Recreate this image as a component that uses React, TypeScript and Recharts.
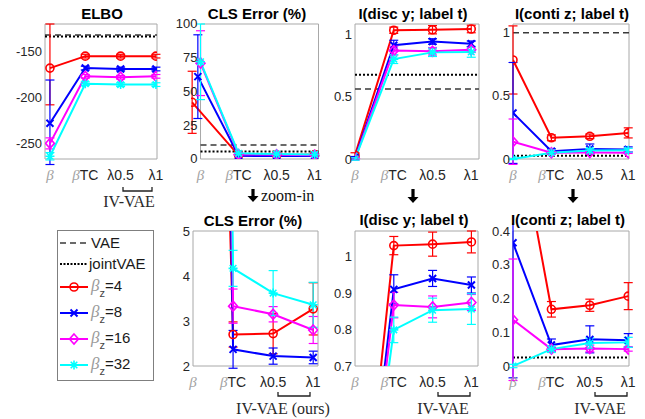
import React from 'react';
import { LineChart, Line, XAxis, YAxis, ErrorBar, ReferenceLine, ReferenceArea } from 'recharts';

const SANS = '"Liberation Sans", Arial, sans-serif';
const SERIF = '"Liberation Serif", "Times New Roman", serif';

// ---------------- data ----------------
const xPositions = [1, 2, 3, 4];
const xLabels = ['β', 'βTC', 'λ0.5', 'λ1'];
const clsRedX = [0.78, 2, 3, 4];
const clsBlueX = [0.93, 2, 3, 4];

// reference lines: [ELBO, CLS, I(disc), I(conti)]
const vaeValues = [-132, 10.3, 0.56, 1.0];
const jointVaeValues = [-133.5, 5.5, 0.675, 0.025];

const elboRed = [-168, -155, -155, -155];
const elboRedErr: any[] = [[40, 48], 2, 2, 2];
const elboBlue = [-228, -168, -169, -169];
const elboBlueErr: any[] = [[45, 47], 2, 2, 2];
const elboMagenta = [-250, -177, -178, -177];
const elboMagentaErr = [6, 2, 2, 2];
const elboCyan = [-264, -185, -186, -186];
const elboCyanErr = [4, 2, 2, 2];

const clsRed = [42, 2.7, 2.72, 3.27];
const clsRedErr = [23, 0.28, 0.45, 0.58];
const clsBlue = [61, 2.37, 2.22, 2.19];
const clsBlueErr = [31, 0.42, 0.18, 0.14];
const clsMagenta = [71, 3.33, 3.15, 2.8];
const clsMagentaErr = [24, 0.38, 0.17, 0.3];
const clsCyan = [72, 4.17, 3.62, 3.36];
const clsCyanErr = [28, 0.4, 0.5, 0.5];

const discRed = [0.03, 1.03, 1.034, 1.04];
const discRedErr = [0.02, 0.025, 0.033, 0.03];
const discBlue = [0.01, 0.91, 0.94, 0.922];
const discBlueErr = [0.01, 0.04, 0.022, 0.022];
const discMagenta = [0, 0.867, 0.862, 0.874];
const discMagentaErr = [0.01, 0.035, 0.03, 0.022];
const discCyan = [0, 0.799, 0.853, 0.856];
const discCyanErr = [0.01, 0.035, 0.033, 0.042];

const contiRed = [0.785, 0.168, 0.18, 0.207];
const contiRedErr = [0.27, 0.023, 0.018, 0.04];
const contiBlue = [0.365, 0.062, 0.079, 0.076];
const contiBlueErr = [0.4, 0.018, 0.04, 0.02];
const contiMagenta = [0.137, 0.05, 0.052, 0.05];
const contiMagentaErr = [0.18, 0.006, 0.01, 0.006];
const contiCyan = [0, 0.05, 0.068, 0.07];
const contiCyanErr = [0.005, 0.01, 0.015, 0.015];

const legendLabels = ['4', '8', '16', '32'];
const seriesStyles = [
  { color: '#ff0000', marker: 'circle' },
  { color: '#0000ff', marker: 'x' },
  { color: '#ff00ff', marker: 'diamond' },
  { color: '#00ffff', marker: 'star' },
];

const mk = (xs: number[], vals: number[], errs: any[]) =>
  vals.map((v, i) => ({ x: xs[i], y: v, err: errs[i] }));

const makeSeries = (rows: any[][]) =>
  rows.map((r, i) => ({ ...seriesStyles[i], name: `s${i}`, data: mk(r[0], r[1], r[2]) }));

const panels = [
  {
    key: 'elbo', box: [45, 157, 24, 159], xDom: [0.86, 4.03], boxX: [0.86, 4.03],
    yDom: [-267, -120], yTicks: [-250, -200, -150], refIdx: 0,
    series: makeSeries([
      [xPositions, elboRed, elboRedErr], [xPositions, elboBlue, elboBlueErr],
      [xPositions, elboMagenta, elboMagentaErr], [xPositions, elboCyan, elboCyanErr],
    ]),
  },
  {
    key: 'clsTop', box: [201, 319, 24, 159], xDom: [0.75, 4.1], boxX: [1, 4.1],
    yDom: [0, 100], yTicks: [0, 25, 50, 75, 100], refIdx: 1,
    series: makeSeries([
      [clsRedX, clsRed, clsRedErr], [clsBlueX, clsBlue, clsBlueErr],
      [xPositions, clsMagenta, clsMagentaErr], [xPositions, clsCyan, clsCyanErr],
    ]),
  },
  {
    key: 'discTop', box: [355, 479, 24, 159], xDom: [1, 4.2], boxX: [1, 4.2],
    yDom: [0, 1.08], yTicks: [0, 0.5, 1], refIdx: 2,
    series: makeSeries([
      [xPositions, discRed, discRedErr], [xPositions, discBlue, discBlueErr],
      [xPositions, discMagenta, discMagentaErr], [xPositions, discCyan, discCyanErr],
    ]),
  },
  {
    key: 'contiTop', box: [513, 629, 24, 159], xDom: [1, 4.02], boxX: [1, 4.02],
    yDom: [0, 1.07], yTicks: [0, 0.5, 1], refIdx: 3,
    series: makeSeries([
      [xPositions, contiRed, contiRedErr], [xPositions, contiBlue, contiBlueErr],
      [xPositions, contiMagenta, contiMagentaErr], [xPositions, contiCyan, contiCyanErr],
    ]),
  },
  {
    key: 'clsBot', box: [193, 318, 231, 366], xDom: [1, 4.12], boxX: [1, 4.12],
    yDom: [2, 5], yTicks: [2, 3, 4, 5], refIdx: 1,
    series: makeSeries([
      [clsRedX, clsRed, clsRedErr], [clsBlueX, clsBlue, clsBlueErr],
      [xPositions, clsMagenta, clsMagentaErr], [xPositions, clsCyan, clsCyanErr],
    ]),
  },
  {
    key: 'discBot', box: [355, 478, 231, 366], xDom: [1, 4.17], boxX: [1, 4.17],
    yDom: [0.7, 1.07], yTicks: [0.7, 0.8, 0.9, 1], refIdx: 2,
    series: makeSeries([
      [xPositions, discRed, discRedErr], [xPositions, discBlue, discBlueErr],
      [xPositions, discMagenta, discMagentaErr], [xPositions, discCyan, discCyanErr],
    ]),
  },
  {
    key: 'contiBot', box: [513, 629, 231, 366], xDom: [1, 4.02], boxX: [1, 4.02],
    yDom: [0, 0.4], yTicks: [0, 0.1, 0.2, 0.3, 0.4], refIdx: 3,
    series: makeSeries([
      [xPositions, contiRed, contiRedErr], [xPositions, contiBlue, contiBlueErr],
      [xPositions, contiMagenta, contiMagentaErr], [xPositions, contiCyan, contiCyanErr],
    ]),
  },
];

// ---------------- marks ----------------
function Marker({ cx, cy, kind, color }: any) {
  if (cx == null || cy == null || isNaN(cx) || isNaN(cy)) return null;
  if (kind === 'circle')
    return <circle cx={cx} cy={cy} r={4} fill="none" stroke={color} strokeWidth={1.6} />;
  if (kind === 'x')
    return (
      <path
        d={`M${cx - 3.5},${cy - 3.5}L${cx + 3.5},${cy + 3.5}M${cx - 3.5},${cy + 3.5}L${cx + 3.5},${cy - 3.5}`}
        stroke={color} strokeWidth={2} fill="none"
      />
    );
  if (kind === 'diamond')
    return (
      <path
        d={`M${cx},${cy - 5}L${cx + 4.5},${cy}L${cx},${cy + 5}L${cx - 4.5},${cy}Z`}
        stroke={color} strokeWidth={1.6} fill="none"
      />
    );
  return (
    <path
      d={`M${cx},${cy - 4.5}L${cx},${cy + 4.5}M${cx - 4.5},${cy}L${cx + 4.5},${cy}M${cx - 3.3},${cy - 3.3}L${cx + 3.3},${cy + 3.3}M${cx - 3.3},${cy + 3.3}L${cx + 3.3},${cy - 3.3}`}
      stroke={color} strokeWidth={1.6} fill="none"
    />
  );
}

const XTick = (props: any) => {
  const { x, y, payload } = props;
  const label = xLabels[xPositions.indexOf(payload.value)] ?? '';
  const hasBeta = label.startsWith('β');
  const rest = hasBeta ? label.slice(1) : label;
  return (
    <text x={x} y={y + 21} textAnchor="middle" fontSize={14} fontFamily={SANS} fill="#262626">
      {hasBeta && (
        <tspan fontFamily={SERIF} fontStyle="italic" fill="#a3a3a3" fontSize={15}>β</tspan>
      )}
      {rest && <tspan>{rest}</tspan>}
    </text>
  );
};

const YTick = (props: any) => {
  const { x, y, payload, shift } = props;
  return (
    <text x={x + shift} y={y} dy={4.5} textAnchor="end" fontSize={13} fontFamily={SANS} fill="#262626">
      {String(payload.value)}
    </text>
  );
};

function Panel({ spec }: any) {
  const [bx1, bx2, by1, by2] = spec.box;
  const unit = (bx2 - bx1) / (spec.boxX[1] - spec.boxX[0]);
  const plotLeft = bx1 - (spec.boxX[0] - spec.xDom[0]) * unit;
  const plotRight = bx2 + (spec.xDom[1] - spec.boxX[1]) * unit;
  const YW = 45, MT = 8, MR = 8, XH = 32;
  const width = YW + (plotRight - plotLeft) + MR;
  const height = MT + (by2 - by1) + XH;
  const shift = bx1 - plotLeft;
  const [ymin, ymax] = spec.yDom;
  const refs = [
    { v: vaeValues[spec.refIdx], dash: '6 4', color: '#3a3a3a', w: 1.5 },
    { v: jointVaeValues[spec.refIdx], dash: '2 2', color: '#000000', w: 2 },
  ].filter((r) => r.v >= ymin && r.v <= ymax);
  return (
    <div style={{ position: 'absolute', left: plotLeft - YW, top: by1 - MT }}>
      <LineChart width={width} height={height} margin={{ top: MT, right: MR, left: 0, bottom: 0 }}>
        <XAxis
          type="number" dataKey="x" domain={spec.xDom} allowDataOverflow ticks={xPositions}
          interval={0} height={XH} axisLine={false} tickLine={false} tickSize={0} tickMargin={0}
          tick={<XTick />}
        />
        <YAxis
          type="number" domain={spec.yDom} allowDataOverflow ticks={spec.yTicks} interval={0}
          width={YW} axisLine={false} tickLine={false} tickSize={0} tickMargin={3}
          tick={(p: any) => <YTick {...p} shift={shift} />}
        />
        <ReferenceArea
          x1={spec.boxX[0]} x2={spec.boxX[1]} y1={ymin} y2={ymax}
          fill="none" fillOpacity={0} stroke="#a8a8a8" strokeWidth={1} ifOverflow="visible"
        />
        {refs.map((r, i) => (
          <ReferenceLine
            key={`ref${i}`}
            segment={[{ x: spec.boxX[0], y: r.v }, { x: spec.boxX[1], y: r.v }]}
            stroke={r.color} strokeWidth={r.w} strokeDasharray={r.dash} ifOverflow="visible"
          />
        ))}
        {spec.series.map((s: any) => (
          <Line
            key={s.name} name={s.name} data={s.data} dataKey="y" stroke={s.color} strokeWidth={2}
            isAnimationActive={false} activeDot={false} type="linear"
            dot={(p: any) => (
              <Marker key={`${s.name}-${p.index}`} cx={p.cx} cy={p.cy} kind={s.marker} color={s.color} />
            )}
          >
            <ErrorBar
              dataKey="err" width={4.5} stroke={s.color} strokeWidth={1.2} direction="y"
              isAnimationActive={false}
            />
          </Line>
        ))}
      </LineChart>
    </div>
  );
}

const titles = [
  { text: 'ELBO', x: 102, y: 19 },
  { text: 'CLS Error (%)', x: 257, y: 19 },
  { text: 'I(disc y; label t)', x: 413, y: 19 },
  { text: 'I(conti z; label t)', x: 572, y: 19 },
  { text: 'CLS Error (%)', x: 253, y: 226 },
  { text: 'I(disc y; label t)', x: 414, y: 225 },
  { text: 'I(conti z; label t)', x: 568, y: 225 },
];

const brackets = [
  { x1: 123, x2: 152, y: 191, label: 'IV-VAE', tx: 129, ty: 207 },
  { x1: 278, x2: 310, y: 396, label: 'IV-VAE (ours)', tx: 283, ty: 414 },
  { x1: 438, x2: 470, y: 396, label: 'IV-VAE', tx: 443, ty: 414 },
  { x1: 595, x2: 627, y: 396, label: 'IV-VAE', tx: 600, ty: 414 },
];

const arrows = [
  { x: 253, y0: 189, y1: 202 },
  { x: 413, y0: 189, y1: 203 },
  { x: 573, y0: 189, y1: 203 },
];

function Arrow({ x, y0, y1 }: any) {
  return (
    <path
      d={`M${x - 1.6},${y0}H${x + 1.6}V${y1 - 6}H${x + 5.5}L${x},${y1}L${x - 5.5},${y1 - 6}H${x - 1.6}Z`}
      fill="#000"
    />
  );
}

function LegendMarker({ kind, color, x, y }: any) {
  return <Marker cx={x} cy={y} kind={kind} color={color} />;
}

export default function App() {
  const legendYs = [287, 313, 339, 365];
  return (
    <div style={{ position: 'absolute', left: 0, top: 0, width: 645, height: 419, background: '#fff', overflow: 'hidden' }}>
      {panels.map((p) => (
        <Panel key={p.key} spec={p} />
      ))}
      <svg width={645} height={419} style={{ position: 'absolute', left: 0, top: 0, pointerEvents: 'none' }}>
        {titles.map((t, i) => (
          <text key={`t${i}`} x={t.x} y={t.y} textAnchor="middle" fontSize={15} fontWeight="bold" fontFamily={SANS} fill="#000">
            {t.text}
          </text>
        ))}
        {brackets.map((b, i) => (
          <g key={`b${i}`}>
            <path d={`M${b.x1},${b.y - 4}V${b.y}H${b.x2}V${b.y - 4}`} stroke="#222" strokeWidth={1.3} fill="none" />
            <text x={b.tx} y={b.ty} textAnchor="middle" fontSize={16} fontFamily={SERIF} fill="#2a2a2a">
              {b.label}
            </text>
          </g>
        ))}
        {arrows.map((a, i) => (
          <Arrow key={`a${i}`} {...a} />
        ))}
        <text x={261} y={201} fontSize={16} fontFamily={SERIF} fill="#111">zoom-in</text>

        {/* legend */}
        <rect x={57.5} y={230.5} width={96} height={150} fill="#fff" stroke="#7f7f7f" strokeWidth={1} />
        <line x1={60} x2={88} y1={243} y2={243} stroke="#3a3a3a" strokeWidth={1.5} strokeDasharray="6 4" />
        <text x={91} y={248} fontSize={15} fontFamily={SANS} fill="#1a1a1a">VAE</text>
        <line x1={60} x2={87} y1={264} y2={264} stroke="#000" strokeWidth={2} strokeDasharray="2 1.5" />
        <text x={89} y={269} fontSize={15} fontFamily={SANS} fill="#1a1a1a">jointVAE</text>
        {seriesStyles.map((s, i) => (
          <g key={`lg${i}`}>
            <line x1={60} x2={88} y1={legendYs[i]} y2={legendYs[i]} stroke={s.color} strokeWidth={2} />
            <LegendMarker kind={s.marker} color={s.color} x={74} y={legendYs[i]} />
            <text x={91} y={legendYs[i] + 4} fontSize={15} fontFamily={SANS} fill="#1a1a1a">
              <tspan fontFamily={SERIF} fontStyle="italic" fill="#9a9a9a" fontSize={17}>β</tspan>
              <tspan dy={6} fontSize={11} fill="#444">z</tspan>
              <tspan dy={-6}>={legendLabels[i]}</tspan>
            </text>
          </g>
        ))}
      </svg>
    </div>
  );
}
